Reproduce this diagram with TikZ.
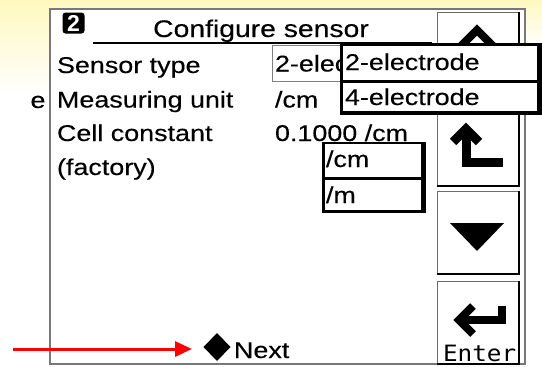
\documentclass[tikz,border=0pt]{standalone}
\usepackage{fontspec}
\setmainfont{Liberation Sans}[FakeStretch=1.18,FakeBold=0.3]
\newfontfamily\keyfont{DejaVu Sans Mono}[FakeStretch=1.08]
\newfontfamily\badgefont{Liberation Sans Bold}
\usetikzlibrary{arrows.meta,shapes.geometric}
\definecolor{glow}{RGB}{255,248,190}
\definecolor{rim}{RGB}{120,120,120}

\begin{document}
\begin{tikzpicture}[x=1pt,y=-1pt,
  every node/.style={inner sep=0pt, outer sep=0pt},
  lbl/.style={anchor=base west, font=\fontsize{22.8}{24}\selectfont},
  key/.style={draw=gray!85!black, line width=1pt, fill=white,
    minimum width=82pt, minimum height=83pt, anchor=north west},
  keyshadow/.style={line width=1.6pt, black},
  icon/.style={black, line cap=butt, miter limit=10},
  listframe/.style={fill=black, anchor=north west},
  listitem/.style={fill=white, anchor=north west},
]
% page and soft yellow glow
\useasboundingbox (0,0) rectangle (542,367);
\fill[white] (0,0) rectangle (542,367);
\shade[top color=glow, bottom color=white] (0,0) rectangle (542,45);
\shade[top color=glow, bottom color=white] (0,0) rectangle (50,95);

% display frame
\node[draw=rim, line width=1.5pt, fill=white, anchor=north west,
  minimum width=475pt, minimum height=355pt] (screen) at (50,9) {};

% header
\node[fill=black, rounded corners=3pt, minimum width=22pt, minimum height=21pt,
  anchor=north west] (badge) at (62.5,12.5) {};
\node[text=white, font=\badgefont\fontsize{23}{23}\selectfont, anchor=base]
  (badgenum) at (badge.center |- 0,31) {2};
\node[anchor=base, font=\fontsize{24}{26}\selectfont] (title) at (261,37) {Configure sensor};
\draw[line width=1.5pt] (93,43) -- (432,43);

% parameter labels
\node[lbl] (stray) at (30.5,108) {e};
\node[lbl] (senstype) at (57,73) {Sensor type};
\node[lbl] (measunit) at (57,107.5) {Measuring unit};
\node[lbl] (cellconst) at (57,141) {Cell constant};
\node[lbl] (factory) at (57,175) {(factory)};

% parameter values
\node[draw=gray, line width=1pt, anchor=north west,
  minimum width=69pt, minimum height=36pt] (typebox) at (272,45) {};
\node[lbl] (typeval) at (275,71.5) {2-elec};
\node[lbl] (unitval) at (275,107.5) {/cm};
\node[lbl] (constval) at (275,141) {0.1000 /cm};

% soft keys
\node[key] (upkey) at (437,12) {};
\node[key] (backkey) at (437,103) {};
\node[key] (downkey) at (437,191) {};
\node[key] (enterkey) at (437,281) {};
\foreach \k in {upkey,backkey,downkey,enterkey}
  \draw[keyshadow] (\k.south west) -- (\k.south east) -- (\k.north east);

% key symbols
\draw[icon, line width=8pt] (459,48) -- (477,30) -- (495,48);
\draw[icon, line width=9pt] (453,142) -- (466,129) -- (479,142);
\draw[icon, line width=9pt] (466,131) -- (466,162) -- (503,162);
\fill (450,223) -- (504,223) -- (477,251) -- cycle;
\draw[icon, line width=8pt] (502,306) -- (502,320) -- (461,320);
\draw[icon, line width=8pt] (473,306) -- (459,320) -- (473,334);
\node[anchor=base west, font=\keyfont\fontsize{22.5}{22}\selectfont] (entertxt) at (443,361) {Enter};

% sensor type pick list
\node[listframe, minimum width=202pt, minimum height=72pt] (typelist) at (340,43) {};
\node[listitem, minimum width=194pt, minimum height=34pt] (twoel) at (343,46) {};
\node[listitem, minimum width=194pt, minimum height=28pt] (fourel) at (343,83) {};
\node[lbl] (twoeltxt) at (345,70) {2-electrode};
\node[lbl] (foureltxt) at (345,105) {4-electrode};

% unit pick list
\node[listframe, minimum width=104pt, minimum height=71pt] (unitlist) at (322,142) {};
\node[listitem, minimum width=96pt, minimum height=33pt] (cmitem) at (325,144) {};
\node[listitem, minimum width=96pt, minimum height=30pt] (mitem) at (325,180) {};
\node[lbl] (cmtxt) at (326,167) {/cm};
\node[lbl] (mtxt) at (326,203) {/m};

% next step marker
\node[diamond, fill=black, minimum width=27pt, minimum height=28pt] (nextmark) at (217,347) {};
\node[lbl] (nexttxt) at (234,358) {Next};
\coordinate (arrowtail) at (13,349);
\draw[red, line width=3pt, shorten >=11.5pt, -{Triangle[length=17pt,width=15pt]}]
  (arrowtail) -- (arrowtail -| nextmark.west);
\end{tikzpicture}
\end{document}
